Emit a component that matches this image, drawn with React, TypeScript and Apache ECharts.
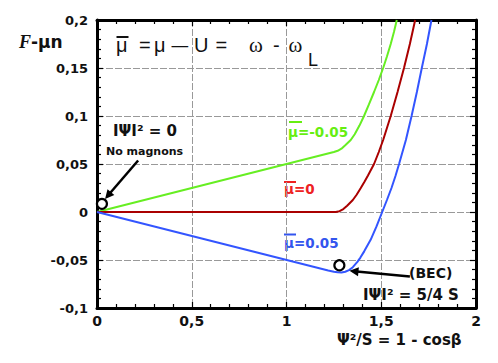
import React, { useEffect, useRef } from "react";
import * as echarts from "echarts";

// ---- data ----
const greenX = [0, 1.25, 1.27, 1.29, 1.31, 1.339, 1.36, 1.385, 1.409, 1.435, 1.462, 1.487, 1.51, 1.53, 1.55, 1.567, 1.582];
const greenY = [0, 0.0625, 0.0638, 0.066, 0.0695, 0.075, 0.081, 0.09, 0.1, 0.112, 0.125, 0.1375, 0.15, 0.162, 0.175, 0.1875, 0.2];

const redX = [0, 1.26, 1.28, 1.3, 1.32, 1.35, 1.37, 1.392, 1.41, 1.43, 1.462, 1.487, 1.51, 1.53, 1.55, 1.586, 1.62, 1.651, 1.679];
const redY = [0, 0, 0.0008, 0.003, 0.0065, 0.0125, 0.018, 0.025, 0.031, 0.038, 0.05, 0.0625, 0.075, 0.0875, 0.1, 0.125, 0.15, 0.175, 0.2];

const blueX = [0, 1.22, 1.25, 1.27, 1.29, 1.31, 1.33, 1.35, 1.374, 1.39, 1.41, 1.444, 1.475, 1.505, 1.53, 1.554, 1.575, 1.594, 1.63, 1.66, 1.688, 1.714, 1.741, 1.765];
const blueY = [0, -0.061, -0.0622, -0.0628, -0.063, -0.0622, -0.0605, -0.0575, -0.052, -0.0475, -0.041, -0.029, -0.015, 0, 0.0125, 0.025, 0.0375, 0.05, 0.075, 0.1, 0.125, 0.15, 0.175, 0.2];

const markerPoints = [
  [0.026, 0.0085],
  [1.279, -0.0555],
];
const arrowCoords = [
  [[0.217, 0.0536], [0.058, 0.0172]],
  [[1.651, -0.0672], [1.356, -0.0617]],
];

const xTicks = [0, 0.5, 1, 1.5, 2];
const xTickLabels = ["0", "0,5", "1", "1,5", "2"];
const yTicks = [-0.1, -0.05, 0, 0.05, 0.1, 0.15, 0.2];
const yTickLabels = ["-0,1", "-0,05", "0", "0,05", "0,1", "0,15", "0,2"];

// formula in the header: μ̄ = μ – U = ω - ω_L
const titleTokens = ["μ", "=", "μ", "–", "U", "=", "ω", "-", "ω"];

const GREEN = "#66ee22";
const RED = "#aa0000";
const BLUE = "#3355ff";
const GREEN_LABEL = "#66ee11";
const RED_LABEL = "#ee2222";
const BLUE_LABEL = "#3355ee";

function lookup(ticks: number[], labels: string[], v: number) {
  let best = 0;
  for (let i = 0; i < ticks.length; i++) {
    if (Math.abs(ticks[i] - v) < Math.abs(ticks[best] - v)) best = i;
  }
  return labels[best];
}

const zip = (xs: number[], ys: number[]) => xs.map((x, i) => [x, ys[i]]);

export default function App() {
  const ref = useRef<HTMLDivElement>(null);
  useEffect(() => {
    if (!ref.current) return;
    const chart = echarts.init(ref.current, null, { renderer: "svg" });
    const SANS = "Liberation Sans, Arial, sans-serif";
    const SERIF = "Liberation Serif, serif";
    const BOLD = "DejaVu Sans, sans-serif";
    const splitLine = { show: true, lineStyle: { color: "#999", width: 1, type: [7, 2] as any } };
    const axisCommon = {
      axisLine: { show: true, onZero: false, lineStyle: { color: "#000", width: 3 } },
      axisTick: { show: true, inside: true, length: 6, lineStyle: { color: "#000", width: 1.2 } },
      minorTick: { show: true, splitNumber: 5, length: 4, lineStyle: { color: "#000", width: 1.2 } },
    };
    const bar = (x1: number, x2: number, y: number, color: string) => ({
      type: "line",
      shape: { x1, y1: y, x2, y2: y },
      style: { stroke: color, lineWidth: 2 },
    });
    // layout of the header tokens (pixel left edges)
    const titleX = [116, 139, 154, 171.5, 194, 215.5, 249, 273, 288.5];
    const titleEls = titleTokens.map((t, i) => {
      const isOmega = t === "ω";
      const isDash = t === "–";
      return {
        type: "text",
        x: titleX[i],
        y: 45,
        scaleX: isDash ? 1.5 : 1,
        style: {
          text: t,
          font: isOmega ? `21px ${SERIF}` : `20px ${SANS}`,
          fill: "#111",
          textVerticalAlign: "middle",
        },
      };
    });
    chart.setOption({
      animation: false,
      backgroundColor: "#fff",
      grid: { left: 97, right: 22, top: 20, bottom: 55, containLabel: false },
      xAxis: [
        {
          type: "value",
          min: 0,
          max: 2,
          interval: 0.5,
          position: "bottom",
          ...axisCommon,
          splitLine,
          axisLabel: {
            margin: 6,
            fontFamily: BOLD,
            fontWeight: "bold",
            fontSize: 14,
            color: "#111",
            formatter: (v: number) => lookup(xTicks, xTickLabels, v),
          },
        },
        {
          type: "value",
          min: 0,
          max: 2,
          interval: 0.5,
          position: "top",
          ...axisCommon,
          splitLine: { show: false },
          axisLabel: { show: false },
        },
      ],
      yAxis: [
        {
          type: "value",
          min: -0.1,
          max: 0.2,
          interval: 0.05,
          position: "left",
          ...axisCommon,
          splitLine,
          axisLabel: {
            margin: 9,
            fontFamily: BOLD,
            fontWeight: "bold",
            fontSize: 13,
            color: "#111",
            formatter: (v: number) => lookup(yTicks, yTickLabels, v),
          },
        },
        {
          type: "value",
          min: -0.1,
          max: 0.2,
          interval: 0.05,
          position: "right",
          ...axisCommon,
          splitLine: { show: false },
          axisLabel: { show: false },
        },
      ],
      series: [
        {
          type: "line",
          data: zip(greenX, greenY),
          showSymbol: false,
          smooth: false,
          lineStyle: { color: GREEN, width: 2 },
          clip: true,
          z: 3,
        },
        {
          type: "line",
          data: zip(redX, redY),
          showSymbol: false,
          smooth: false,
          lineStyle: { color: RED, width: 2 },
          clip: true,
          z: 3,
        },
        {
          type: "line",
          data: zip(blueX, blueY),
          showSymbol: false,
          smooth: false,
          lineStyle: { color: BLUE, width: 2 },
          clip: true,
          z: 3,
        },
        {
          type: "lines",
          coordinateSystem: "cartesian2d",
          data: arrowCoords.map((c) => ({ coords: c })),
          symbol: ["none", "triangle"],
          symbolSize: [0, 9],
          lineStyle: { color: "#000", width: 2.5, opacity: 1 },
          itemStyle: { color: "#000" },
          z: 5,
        },
        {
          type: "scatter",
          data: markerPoints,
          symbol: "circle",
          symbolSize: 10,
          itemStyle: { color: "#ffffff", borderColor: "#000", borderWidth: 2.2, opacity: 1 },
          z: 6,
        },
      ],
      graphic: [
        {
          type: "text",
          x: 19,
          y: 42,
          style: {
            text: "{f|F}{s|-μn}",
            textVerticalAlign: "middle",
            rich: {
              f: { fontFamily: SERIF, fontStyle: "italic", fontWeight: "bold", fontSize: 18, fill: "#111" },
              s: { fontFamily: BOLD, fontWeight: "bold", fontSize: 17, fill: "#111" },
            },
          },
        },
        ...titleEls,
        bar(116.5, 128.5, 37, "#111"),
        {
          type: "text",
          x: 308,
          y: 60,
          style: { text: "L", font: `18px ${SANS}`, fill: "#111", textVerticalAlign: "middle" },
        },
        {
          type: "text",
          x: 113,
          y: 131,
          style: { text: "IΨI² = 0", font: `bold 15px ${BOLD}`, fill: "#111", textVerticalAlign: "middle" },
        },
        {
          type: "text",
          x: 106,
          y: 151,
          style: { text: "No magnons", font: `bold 11px ${BOLD}`, fill: "#111", textVerticalAlign: "middle" },
        },
        {
          type: "text",
          x: 288,
          y: 132,
          style: { text: "μ=-0.05", font: `bold 13.5px ${BOLD}`, fill: GREEN_LABEL, textVerticalAlign: "middle" },
        },
        bar(289, 302, 122, GREEN_LABEL),
        {
          type: "text",
          x: 284,
          y: 189,
          style: { text: "μ=0", font: `bold 13.5px ${BOLD}`, fill: RED_LABEL, textVerticalAlign: "middle" },
        },
        bar(284, 296, 182, RED_LABEL),
        {
          type: "text",
          x: 284,
          y: 243,
          style: { text: "μ=0.05", font: `bold 13.5px ${BOLD}`, fill: BLUE_LABEL, textVerticalAlign: "middle" },
        },
        bar(284, 296, 234.5, BLUE_LABEL),
        {
          type: "text",
          x: 409,
          y: 273,
          style: { text: "(BEC)", font: `bold 14px ${BOLD}`, fill: "#111", textVerticalAlign: "middle" },
        },
        {
          type: "text",
          x: 363,
          y: 295,
          style: { text: "IΨI² = 5/4 S", font: `bold 15px ${BOLD}`, fill: "#111", textVerticalAlign: "middle" },
        },
        {
          type: "text",
          x: 337,
          y: 340,
          style: { text: "Ψ²/S = 1 - cosβ", font: `bold 15px ${BOLD}`, fill: "#111", textVerticalAlign: "middle" },
        },
      ],
    });
    return () => chart.dispose();
  }, []);
  return <div ref={ref} style={{ position: "fixed", left: 0, top: 0, width: 498, height: 363 }} />;
}
